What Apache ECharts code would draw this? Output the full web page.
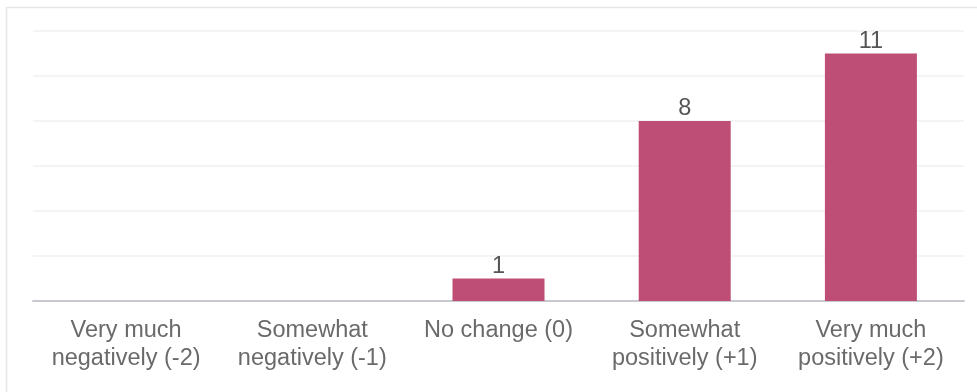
<!DOCTYPE html>
<html><head><meta charset="utf-8">
<script src="https://cdn.jsdelivr.net/npm/echarts@6/dist/echarts.min.js"></script>
<style>html,body{margin:0;padding:0;background:#fff}#c{width:977px;height:392px}</style>
</head><body><div id="c"></div>
<script>
const categories = ['Very much\nnegatively (-2)', 'Somewhat\nnegatively (-1)', 'No change (0)', 'Somewhat\npositively (+1)', 'Very much\npositively (+2)'];
const counts = [0, 0, 1, 8, 11];
const chart = echarts.init(document.getElementById('c'));
chart.setOption({
  animation: false,
  graphic: [{type:'rect', left:4, top:5, shape:{width:1100, height:500}, style:{fill:'none', stroke:'#e6e6e6', lineWidth:1.5}, z:-1}],
  grid: {left:33, right:13, top:31, bottom:91},
  xAxis: {type:'category', data:categories,
    axisLine:{lineStyle:{color:'#c8c8d0', width:2}}, axisTick:{show:false},
    axisLabel:{interval:0, hideOverlap:false, color:'#6a6a6a', fontFamily:'Liberation Sans, Arial', fontSize:23.5, lineHeight:28, margin:16}},
  yAxis: {type:'value', min:0, max:12, interval:2, axisLabel:{show:false},
    axisLine:{show:false}, axisTick:{show:false},
    splitLine:{lineStyle:{color:'#f0f0f0', width:1.5}}},
  series: [{type:'bar', data:counts, barWidth:92,
    itemStyle:{color:'#be4e75'},
    label:{show:true, position:'top', color:'#555', fontFamily:'Liberation Sans, Arial', fontSize:23.5, distance:0,
      formatter: p => p.value > 0 ? p.value : ''}}]
});
</script></body></html>
